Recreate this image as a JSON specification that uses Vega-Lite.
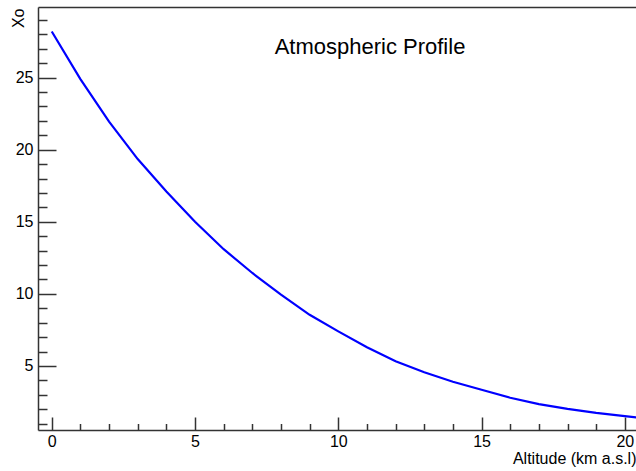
{
  "$schema": "https://vega.github.io/schema/vega-lite/v6.json",
  "autosize": {"type": "none"},
  "padding": {"left": 38, "top": 7, "right": 0, "bottom": 41},
  "width": 598,
  "height": 423,
  "background": "white",
  "config": {
    "view": {"stroke": null},
    "font": "Liberation Sans",
    "axis": {"grid": false, "domainColor": "#333", "tickColor": "#333", "labelColor": "#000", "titleColor": "#000", "labelFont": "Liberation Sans", "titleFont": "Liberation Sans", "labelFontSize": 16, "titleFontSize": 16, "titleFontWeight": "normal"}
  },
  "title": {"text": "Atmospheric Profile", "fontSize": 22, "font": "Liberation Sans", "fontWeight": "normal", "color": "#000", "anchor": "middle", "baseline": "alphabetic", "offset": 0, "dx": 33, "dy": 69},
  "data": {"values": [
    {"alt": 0, "xo": 28.2},
    {"alt": 1, "xo": 24.9},
    {"alt": 2, "xo": 21.95},
    {"alt": 3, "xo": 19.35},
    {"alt": 4, "xo": 17.1},
    {"alt": 5, "xo": 15.0},
    {"alt": 6, "xo": 13.1},
    {"alt": 7, "xo": 11.45},
    {"alt": 8, "xo": 9.95},
    {"alt": 9, "xo": 8.55},
    {"alt": 10, "xo": 7.4},
    {"alt": 11, "xo": 6.3},
    {"alt": 12, "xo": 5.33},
    {"alt": 13, "xo": 4.56},
    {"alt": 14, "xo": 3.91},
    {"alt": 15, "xo": 3.35},
    {"alt": 16, "xo": 2.8},
    {"alt": 17, "xo": 2.36},
    {"alt": 18, "xo": 2.03},
    {"alt": 19, "xo": 1.75},
    {"alt": 20, "xo": 1.52},
    {"alt": 21, "xo": 1.32}
  ]},
  "resolve": {"axis": {"x": "independent", "y": "independent"}},
  "layer": [
    {
      "mark": {"type": "line", "color": "#0000ff", "strokeWidth": 2.2, "clip": true},
      "encoding": {
        "x": {"field": "alt", "type": "quantitative", "scale": {"domain": [-0.48, 20.39], "nice": false, "zero": false},
          "axis": {"orient": "bottom", "values": [0, 5, 10, 15, 20], "tickSize": -13, "labelPadding": 16, "title": "Altitude (km a.s.l)", "titleAnchor": "end", "titleAlign": "right", "titleX": 598, "titleY": 33, "titleBaseline": "alphabetic", "domainWidth": 1.5, "tickWidth": 1.5}},
        "y": {"field": "xo", "type": "quantitative", "scale": {"domain": [0.56, 29.9], "nice": false, "zero": false},
          "axis": {"orient": "left", "values": [5, 10, 15, 20, 25], "tickSize": -18, "labelPadding": 23, "title": "Xo", "titleAngle": -90, "titleAlign": "right", "titleBaseline": "alphabetic", "titleX": -15, "titleY": 1, "domainWidth": 1.5, "tickWidth": 1.5}}
      }
    },
    {
      "mark": {"type": "line", "opacity": 0, "clip": true},
      "encoding": {
        "x": {"field": "alt", "type": "quantitative",
          "axis": {"orient": "bottom", "values": [1, 2, 3, 4, 6, 7, 8, 9, 11, 12, 13, 14, 16, 17, 18, 19], "tickSize": -6.5, "labels": false, "domain": false, "title": null, "tickWidth": 1.5}},
        "y": {"field": "xo", "type": "quantitative",
          "axis": {"orient": "left", "values": [1, 2, 3, 4, 6, 7, 8, 9, 11, 12, 13, 14, 16, 17, 18, 19, 21, 22, 23, 24, 26, 27, 28, 29], "tickSize": -9, "labels": false, "domain": false, "title": null, "tickWidth": 1.5}}
      }
    },
    {
      "mark": {"type": "line", "opacity": 0, "clip": true},
      "encoding": {
        "x": {"field": "alt", "type": "quantitative",
          "axis": {"orient": "top", "ticks": false, "labels": false, "title": null, "domainWidth": 1.5}},
        "y": {"field": "xo", "type": "quantitative", "axis": null}
      }
    }
  ]
}
